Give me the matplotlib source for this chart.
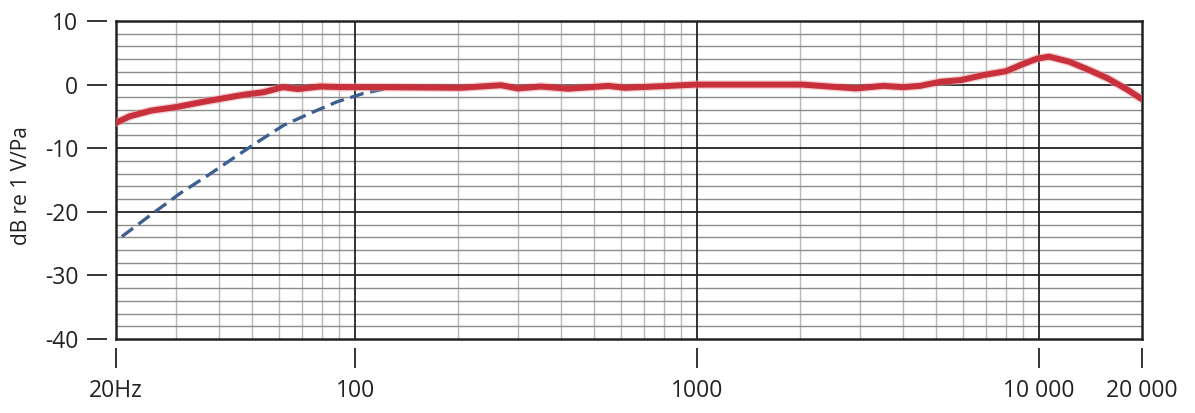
import matplotlib
matplotlib.use("Agg")
import matplotlib.pyplot as plt
from matplotlib.lines import Line2D
import matplotlib.transforms as mtransforms

plt.rcParams['font.family'] = ['Open Sans', 'DejaVu Sans']

# Response data (frequency in Hz, level in dB re 1 V/Pa)
red_freq = [20, 21.9, 25.3, 30.2, 33.7, 37.8, 47.2, 54, 61.5, 68, 79, 92, 116,
            204, 233, 267, 299, 350, 420, 551, 614, 829, 987, 2033, 2915, 3500,
            4010, 4490, 5150, 5900, 6880, 8000, 9040, 9900, 10700, 12250, 14000,
            15850, 18000, 20000]
red_db = [-6.0, -5.0, -4.1, -3.5, -3.0, -2.5, -1.6, -1.2, -0.4, -0.7, -0.3, -0.4, -0.4,
          -0.5, -0.3, -0.1, -0.6, -0.3, -0.65, -0.2, -0.5, -0.2, 0.0, 0.0, -0.6, -0.2,
          -0.4, -0.2, 0.45, 0.7, 1.5, 2.1, 3.3, 4.1, 4.4, 3.6, 2.3, 1.0,
          -0.7, -2.3]

blue_freq = [20.8, 25.7, 30.8, 37.8, 45.4, 53.0, 61.8, 74, 88.6, 105.6, 124]
blue_db = [-23.9, -20.2, -17.1, -14.0, -11.1, -8.7, -6.4, -4.5, -2.7, -1.4, -0.6]

x_ticks = [20, 100, 1000, 10000, 20000]
x_labels = ['20Hz', '100', '1000', '10 000', '20 000']
y_ticks = [10, 0, -10, -20, -30, -40]
y_labels = ['10', '0', '-10', '-20', '-30', '-40']
y_label = 'dB re 1 V/Pa'

fig = plt.figure(figsize=(11.95, 4.13), dpi=100)
ax = fig.add_axes([116/1195, 1-339/413, (1142-116)/1195, (339-21)/413])
ax.set_xscale('log')
ax.set_xlim(20, 20000)
ax.set_ylim(-40, 10)

# grid
minor_x = [m * d for d in (10, 100, 1000) for m in range(2, 10) if 20 < m * d < 10000]
for xv in minor_x:
    ax.axvline(xv, color='#b8b8b8', lw=1.0, zorder=1)
for xv in (100, 1000, 10000):
    ax.axvline(xv, color='#222222', lw=1.3, zorder=1.5)
for yv in range(-38, 10, 2):
    if yv % 10 == 0:
        ax.axhline(yv, color='#222222', lw=1.3, zorder=1.5)
    else:
        ax.axhline(yv, color='#8c8c8c', lw=1.0, zorder=1)

for s in ax.spines.values():
    s.set_color('#222222')
    s.set_linewidth(1.8)
    s.set_zorder(3)

# curves
ax.plot(blue_freq, blue_db, color='#3d6090', lw=2.4, dashes=(4.2, 2.0), zorder=4)
ax.plot(red_freq, red_db, color='#e8a0a4', lw=6.2, alpha=0.5, zorder=4.5,
        solid_capstyle='round')
ax.plot(red_freq, red_db, color='#c8303b', lw=4.3, zorder=5,
        solid_capstyle='round', solid_joinstyle='round')

# ticks and labels
ax.set_xticks(x_ticks)
ax.set_xticklabels(x_labels)
ax.set_yticks(y_ticks)
ax.set_yticklabels(y_labels)
ax.minorticks_off()
ax.tick_params(axis='both', length=0, labelsize=16.5, colors='#222222')
ax.tick_params(axis='x', pad=29)
ax.tick_params(axis='y', pad=27)
for lbl in ax.get_yticklabels():
    lbl.set_y(lbl.get_position()[1])

# detached tick marks
tx = mtransforms.blended_transform_factory(ax.transData, ax.transAxes)
ty = mtransforms.blended_transform_factory(ax.transAxes, ax.transData)
h = 318.0
w = 1026.0
for xv in x_ticks:
    ax.add_line(Line2D([xv, xv], [-10/h, -28/h], transform=tx, color='#333333',
                       lw=1.4, clip_on=False))
for yv in y_ticks:
    ax.add_line(Line2D([-28/w, -10/w], [yv, yv], transform=ty, color='#333333',
                       lw=1.4, clip_on=False))

fig.text(22/1195, 1-186/413, y_label, rotation=90, ha='center', va='center',
         fontsize=15, color='#222222')

fig.savefig('out.png', dpi=100)
